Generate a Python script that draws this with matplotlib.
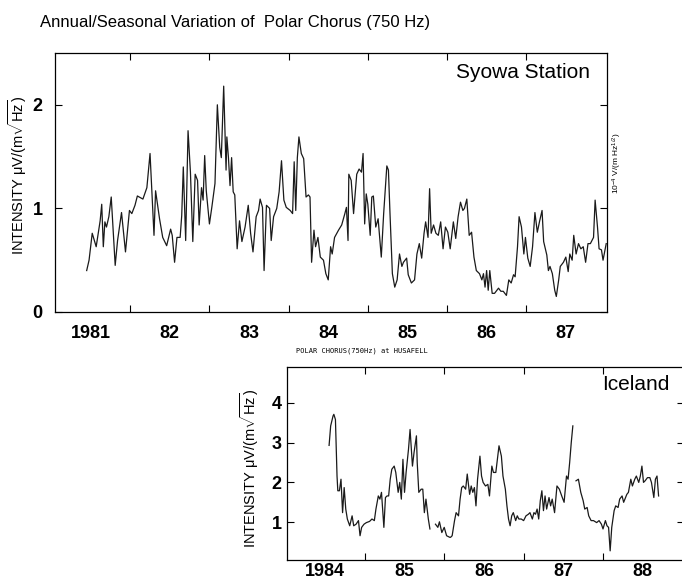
import numpy as np
import matplotlib
matplotlib.use('Agg')
import matplotlib.pyplot as plt

plt.rcParams['font.family'] = ['Liberation Sans', 'DejaVu Sans']
plt.rcParams['mathtext.fontset'] = 'custom'
plt.rcParams['mathtext.rm'] = 'Liberation Sans'
plt.rcParams['mathtext.it'] = 'Liberation Sans:italic'
plt.rcParams['mathtext.bf'] = 'Liberation Sans:bold'

# Syowa Station (Antarctica), intensity in uV/(m sqrt(Hz))
syowa_year = [
    1980.95, 1980.98, 1981.02, 1981.07, 1981.12, 1981.14, 1981.16, 1981.18, 1981.20, 1981.23,
    1981.26, 1981.31, 1981.34, 1981.39, 1981.44, 1981.49, 1981.52, 1981.56, 1981.59, 1981.66,
    1981.71, 1981.75, 1981.80, 1981.82, 1981.87, 1981.91, 1981.96, 1982.01, 1982.03, 1982.06,
    1982.09, 1982.13, 1982.15, 1982.17, 1982.20, 1982.23, 1982.26, 1982.29, 1982.32, 1982.35,
    1982.37, 1982.40, 1982.42, 1982.44, 1982.46, 1982.50, 1982.53, 1982.57, 1982.60, 1982.63,
    1982.65, 1982.68, 1982.71, 1982.72, 1982.74, 1982.76, 1982.78, 1982.80, 1982.82, 1982.85,
    1982.88, 1982.91, 1982.95, 1982.99, 1983.02, 1983.05, 1983.09, 1983.12, 1983.14, 1983.17,
    1983.19, 1983.22, 1983.26, 1983.28, 1983.31, 1983.35, 1983.38, 1983.41, 1983.44, 1983.47,
    1983.52, 1983.55, 1983.57, 1983.59, 1983.61, 1983.63, 1983.66, 1983.69, 1983.72, 1983.75,
    1983.77, 1983.79, 1983.82, 1983.84, 1983.87, 1983.90, 1983.94, 1983.97, 1984.00, 1984.03,
    1984.05, 1984.08, 1984.13, 1984.17, 1984.21, 1984.23, 1984.25, 1984.26, 1984.29, 1984.32,
    1984.36, 1984.39, 1984.42, 1984.44, 1984.46, 1984.48, 1984.50, 1984.53, 1984.55, 1984.57,
    1984.60, 1984.63, 1984.67, 1984.70, 1984.74, 1984.76, 1984.78, 1984.81, 1984.84, 1984.87,
    1984.90, 1984.93, 1984.95, 1984.99, 1985.01, 1985.05, 1985.09, 1985.12, 1985.15, 1985.18,
    1985.21, 1985.23, 1985.26, 1985.28, 1985.30, 1985.33, 1985.36, 1985.39, 1985.42, 1985.45,
    1985.48, 1985.51, 1985.54, 1985.58, 1985.61, 1985.64, 1985.67, 1985.70, 1985.72, 1985.75,
    1985.78, 1985.81, 1985.84, 1985.87, 1985.91, 1985.94, 1985.96, 1985.98, 1986.00, 1986.02,
    1986.04, 1986.07, 1986.10, 1986.15, 1986.18, 1986.21, 1986.25, 1986.28, 1986.31, 1986.34,
    1986.36, 1986.39, 1986.41, 1986.44, 1986.47, 1986.49, 1986.52, 1986.55, 1986.58, 1986.61,
    1986.64, 1986.67, 1986.70, 1986.72, 1986.76, 1986.78, 1986.80, 1986.83, 1986.86, 1986.88,
    1986.91, 1986.93, 1986.97, 1987.00, 1987.03, 1987.05, 1987.08, 1987.10, 1987.13, 1987.16,
    1987.19, 1987.22, 1987.25, 1987.28, 1987.31, 1987.35, 1987.37, 1987.40, 1987.42, 1987.45,
    1987.47, 1987.51,
]
syowa_val = [
    0.40, 0.50, 0.76, 0.63, 0.88, 1.04, 0.63, 0.87, 0.82, 0.92,
    1.11, 0.45, 0.69, 0.96, 0.58, 0.98, 0.95, 1.03, 1.12, 1.09,
    1.20, 1.53, 0.74, 1.17, 0.90, 0.72, 0.64, 0.80, 0.74, 0.48,
    0.72, 0.72, 0.93, 1.40, 0.69, 1.75, 1.35, 0.68, 1.33, 1.27,
    0.84, 1.20, 1.08, 1.51, 1.17, 0.85, 1.01, 1.24, 2.00, 1.59,
    1.49, 2.18, 1.37, 1.69, 1.49, 1.22, 1.49, 1.16, 1.13, 0.61,
    0.88, 0.68, 0.82, 1.03, 0.76, 0.58, 0.92, 0.98, 1.09, 1.01,
    0.40, 1.03, 1.00, 0.69, 0.92, 1.00, 1.16, 1.46, 1.08, 1.01,
    0.98, 0.95, 1.45, 0.98, 1.49, 1.69, 1.53, 1.48, 1.11, 1.13,
    1.11, 0.48, 0.79, 0.63, 0.72, 0.53, 0.50, 0.37, 0.31, 0.63,
    0.56, 0.72, 0.79, 0.84, 0.95, 1.01, 0.69, 1.33, 1.27, 0.95,
    1.33, 1.38, 1.35, 1.53, 0.85, 1.14, 1.04, 0.74, 1.11, 1.12,
    0.82, 0.90, 0.53, 0.95, 1.41, 1.37, 0.95, 0.37, 0.24, 0.31,
    0.56, 0.44, 0.48, 0.52, 0.36, 0.28, 0.31, 0.56, 0.66, 0.52,
    0.76, 0.87, 0.72, 1.19, 0.76, 0.84, 0.76, 0.74, 0.87, 0.61,
    0.82, 0.77, 0.61, 0.87, 0.71, 0.92, 1.06, 0.98, 1.00, 1.09,
    0.74, 0.77, 0.53, 0.40, 0.37, 0.31, 0.37, 0.24, 0.40, 0.21,
    0.40, 0.18, 0.18, 0.23, 0.20, 0.20, 0.16, 0.31, 0.28, 0.36,
    0.34, 0.63, 0.92, 0.82, 0.56, 0.72, 0.52, 0.44, 0.63, 0.96,
    0.77, 0.88, 0.98, 0.68, 0.55, 0.40, 0.44, 0.37, 0.21, 0.15,
    0.31, 0.44, 0.48, 0.53, 0.39, 0.56, 0.50, 0.74, 0.56, 0.66,
    0.61, 0.63, 0.48, 0.66, 0.66, 0.72, 1.08, 0.82, 0.61, 0.60,
    0.50, 0.66,
]

# Husafell (Iceland); nan marks the gaps in the record
iceland_year = [
    1984.05, 1984.07, 1984.10, 1984.11, 1984.13, 1984.15, 1984.16, 1984.18, 1984.20, 1984.22,
    1984.24, 1984.26, 1984.28, 1984.31, 1984.34, 1984.36, 1984.39, 1984.42, 1984.44, 1984.46,
    1984.49, 1984.52, 1984.56, 1984.59, 1984.62, 1984.64, 1984.67, 1984.69, 1984.71, 1984.74,
    1984.76, 1984.78, 1984.80, 1984.82, 1984.84, 1984.87, 1984.89, 1984.92, 1984.94, 1984.96,
    1984.98, 1985.00, 1985.02, 1985.05, 1985.07, 1985.10, 1985.12, 1985.15, 1985.16, 1985.18,
    1985.21, 1985.23, 1985.25, 1985.27, 1985.30, 1985.32, 1985.35,
    1985.39, 1985.42, 1985.44, 1985.47, 1985.50, 1985.53, 1985.57, 1985.58, 1985.60, 1985.63,
    1985.65, 1985.68, 1985.70, 1985.72, 1985.74, 1985.77, 1985.79, 1985.82, 1985.84, 1985.86,
    1985.88, 1985.90, 1985.92, 1985.95, 1985.97, 1985.99, 1986.02, 1986.05, 1986.07, 1986.10,
    1986.12, 1986.15, 1986.17, 1986.19, 1986.22, 1986.24, 1986.27, 1986.29, 1986.31, 1986.33,
    1986.35, 1986.37, 1986.40, 1986.42, 1986.44, 1986.47, 1986.50, 1986.53, 1986.56, 1986.58,
    1986.61, 1986.63, 1986.65, 1986.67, 1986.69, 1986.71, 1986.73, 1986.75, 1986.77, 1986.79,
    1986.82, 1986.84, 1986.86, 1986.89, 1986.92, 1986.95, 1986.98, 1987.01, 1987.04, 1987.06,
    1987.08, 1987.10, 1987.12, 1987.14,
    1987.16, 1987.19, 1987.22, 1987.25, 1987.27, 1987.30, 1987.32, 1987.35, 1987.38, 1987.42,
    1987.45, 1987.48, 1987.50, 1987.53, 1987.55, 1987.57, 1987.59, 1987.61, 1987.64, 1987.66,
    1987.69, 1987.71, 1987.74, 1987.76, 1987.80, 1987.82, 1987.85, 1987.87, 1987.90, 1987.92,
    1987.95, 1987.97, 1987.99, 1988.01, 1988.03, 1988.06, 1988.09, 1988.11, 1988.14, 1988.16,
    1988.18, 1988.20,
]
iceland_val = [
    2.93, 3.42, 3.67, 3.71, 3.58, 2.16, 1.79, 1.79, 2.08, 1.24,
    1.87, 1.33, 1.08, 0.91, 1.16, 0.91, 0.95, 1.04, 0.66, 0.87,
    0.95, 0.99, 1.02, 1.08, 1.04, 1.33, 1.66, 1.58, 1.75, 0.87,
    1.62, 1.66, 1.66, 2.08, 2.33, 2.41, 2.25, 1.75, 2.00, 1.58,
    2.58, 1.75, 2.25, 2.83, 3.33, 2.41, 2.75, 3.17, 2.50, 1.75,
    1.83, 1.83, 1.24, 1.58, 1.08, 0.83, np.nan,
    0.95, 0.87, 1.01, 0.74, 0.87, 0.66, 0.62, 0.62, 0.66, 1.04,
    1.24, 1.16, 1.58, 1.87, 1.91, 1.83, 2.21, 1.70, 1.91, 1.75,
    1.87, 1.41, 2.08, 2.66, 2.16, 2.00, 1.91, 1.95, 1.66, 2.41,
    2.25, 2.25, 2.58, 2.92, 2.66, 2.16, 1.83, 1.41, 1.08, 0.91,
    1.16, 1.24, 1.04, 1.16, 1.08, 1.08, 1.04, 1.16, 1.20, 1.24,
    1.08, 1.24, 1.20, 1.33, 1.08, 1.54, 1.79, 1.29, 1.66, 1.33,
    1.62, 1.41, 1.58, 1.24, 1.91, 1.83, 1.66, 1.50, 2.16, 2.08,
    2.50, 3.00, 3.42, np.nan,
    2.04, 2.08, 1.75, 1.54, 1.33, 1.37, 1.16, 1.04, 1.04, 0.99,
    1.04, 0.95, 0.83, 1.04, 0.91, 0.87, 0.28, 0.87, 1.29, 1.41,
    1.37, 1.58, 1.66, 1.50, 1.70, 1.75, 2.08, 1.91, 2.08, 2.16,
    2.00, 2.16, 2.41, 2.00, 2.04, 2.12, 2.12, 2.00, 1.62, 2.08,
    2.16, 1.66,
]

syowa_years = [1981, 1982, 1983, 1984, 1985, 1986, 1987]
syowa_labels = ['1981', '82', '83', '84', '85', '86', '87']
iceland_years = [1984, 1985, 1986, 1987, 1988]
iceland_labels = ['1984', '85', '86', '87', '88']

W, H = 682, 582
fig = plt.figure(figsize=(W / 100, H / 100), dpi=100)

ylab = 'INTENSITY μV/(m$\\sqrt{\\mathrm{Hz}}$)'

# ---- upper panel: Syowa
ax1 = fig.add_axes([55 / W, (H - 312) / H, 552 / W, 259 / H])
ax1.plot(syowa_year, syowa_val, color='#1a1a1a', lw=0.9)
ax1.set_xlim(1980.55, 1987.52)
ax1.set_ylim(0, 2.5)
ax1.set_xticks([y + 0.5 for y in syowa_years[:-1]])
ax1.set_xticklabels([])
ax1.set_xticks(syowa_years, minor=True)
ax1.set_xticklabels(syowa_labels, minor=True, fontweight='bold')
ax1.set_yticks([0, 1, 2])
ax1.set_yticklabels(['0', '1', '2'], fontweight='bold')
ax1.tick_params(axis='x', which='major', direction='in', top=True, length=5, width=0.8)
ax1.tick_params(axis='x', which='minor', length=0, pad=9, labelsize=13)
ax1.tick_params(axis='y', direction='in', left=True, right=True, length=5, width=0.8,
                pad=9, labelsize=13)
fig.text(456 / W, 1 - 73 / H, 'Syowa Station', ha='left', va='center', fontsize=15)
fig.text(18 / W, 1 - 175 / H, ylab, rotation=90, ha='center', va='center', fontsize=10.5)
fig.text(617 / W, 1 - 163 / H, '$10^{-4}$ V/(m Hz$^{1/2}$)', rotation=90,
         ha='center', va='center', fontsize=6)

# ---- lower panel: Iceland
ax2 = fig.add_axes([287 / W, (H - 560) / H, 397 / W, 193 / H])
ax2.plot(iceland_year, iceland_val, color='#1a1a1a', lw=0.9)
ax2.set_xlim(1983.52, 1988.52)
ax2.set_ylim(0.05, 4.9)
ax2.set_xticks([y + 0.5 for y in iceland_years[:-1]])
ax2.set_xticklabels([])
ax2.set_xticks(iceland_years, minor=True)
ax2.set_xticklabels(iceland_labels, minor=True, fontweight='bold')
ax2.set_yticks([1, 2, 3, 4])
ax2.set_yticklabels(['1', '2', '3', '4'], fontweight='bold')
ax2.tick_params(axis='x', which='major', direction='in', top=True, length=5, width=0.8)
ax2.tick_params(axis='x', which='minor', length=0, pad=2, labelsize=13)
ax2.tick_params(axis='y', direction='in', left=True, right=True, length=5, width=0.8,
                pad=4, labelsize=13)
fig.text(602 / W, 1 - 385 / H, 'Iceland', ha='left', va='center', fontsize=15)
fig.text(250 / W, 1 - 468 / H, ylab, rotation=90, ha='center', va='center', fontsize=10.5)
fig.text(296 / W, 1 - 351 / H, 'POLAR CHORUS(750Hz) at HUSAFELL', family='DejaVu Sans Mono',
         ha='left', va='center', fontsize=5)

for ax in (ax1, ax2):
    for s in ax.spines.values():
        s.set_linewidth(0.9)

fig.text(40 / W, 1 - 22 / H, 'Annual/Seasonal Variation of  Polar Chorus (750 Hz)',
         ha='left', va='center', fontsize=12)

fig.savefig('out.png', dpi=100)
